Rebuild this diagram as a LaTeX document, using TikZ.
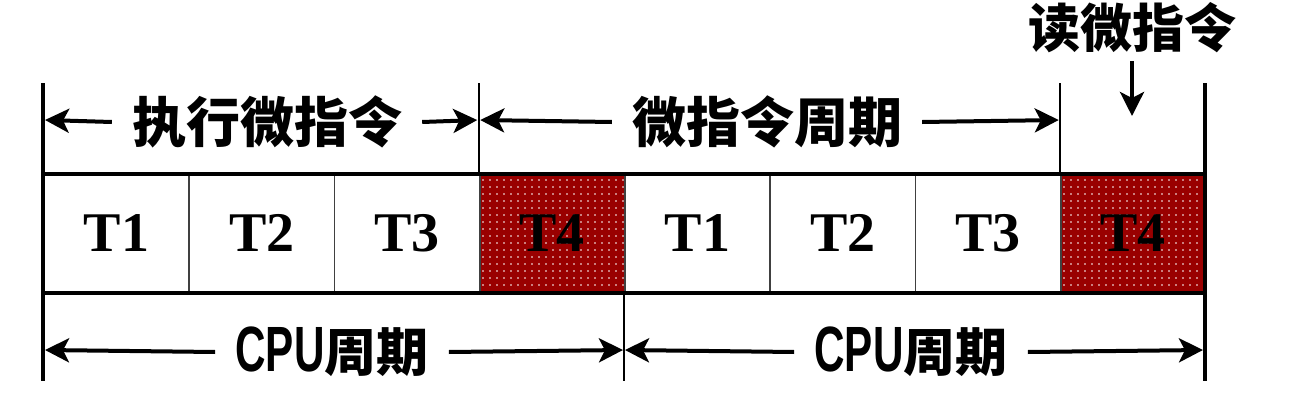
\documentclass[tikz,border=0pt]{standalone}
\usepackage{fontspec}
\setmainfont{Liberation Serif}
\newfontfamily\cjk{Noto Sans CJK SC}
\newfontfamily\narrow[FakeStretch=0.66]{Liberation Sans}
\usetikzlibrary{arrows.meta,patterns.meta}
\definecolor{cellred}{HTML}{990000}
\tikzset{
  tipR/.tip={Stealth[length=24pt,width=24pt,inset=6pt]},
}
\begin{document}
\begin{tikzpicture}[x=1pt,y=-1pt,
  cell/.style={draw=black!75, line width=1.8pt, minimum width=145.25pt, minimum height=117pt,
    inner sep=0pt, anchor=north west, font=\fontsize{56}{56}\selectfont\bfseries},
  hot/.style={fill=cellred},
  dots/.style={pattern={Dots[distance=7pt,radius=0.9pt]}, pattern color=white},
  bar/.style={line width=4.5pt},
  vline/.style={line width=2pt},
  hedge/.style={line width=3.4pt},
  dimarrow/.style={line width=4pt, arrows={-tipR}},
  lab/.style={inner xsep=20pt, inner ysep=0pt, font=\cjk\bfseries\fontsize{54}{54}\selectfont},
  cpu/.style={inner xsep=20pt, inner ysep=0pt}
]
\useasboundingbox (0,0) rectangle (1300,404);

% cells
\node[cell]      (c1) at (43,174)      {T1};
\node[cell]      (c2) at (188.25,174)  {T2};
\node[cell]      (c3) at (333.5,174)   {T3};
\node[cell,hot]  (c4) at (478.75,174)  {};
\node[cell]      (c5) at (624,174)     {T1};
\node[cell]      (c6) at (769.25,174)  {T2};
\node[cell]      (c7) at (914.5,174)   {T3};
\node[cell,hot]  (c8) at (1059.75,174) {};
\fill[dots] (c4.north west) rectangle (c4.south east);
\fill[dots] (c8.north west) rectangle (c8.south east);
\node[font=\fontsize{56}{56}\selectfont\bfseries] at (c4.center) {T4};
\node[font=\fontsize{56}{56}\selectfont\bfseries] at (c8.center) {T4};
\draw[hedge] (c1.north west) -- (c8.north east);
\draw[hedge] (c1.south west) -- (c8.south east);

% boundary lines
\coordinate (Lt) at (43,83);   \coordinate (Lb) at (43,381);
\coordinate (Rt) at (1205,83); \coordinate (Rb) at (1205,381);
\coordinate (Mt) at (478.75,83);
\coordinate (Nt) at (1059.75,83);
\coordinate (Pb) at (624,381);
\draw[bar] (Lt) -- (Lb);
\draw[bar] (Rt) -- (Rb);
\draw[vline] (Mt) -- (c4.north west);
\draw[vline] (Nt) -- (c8.north west);
\draw[vline] (c5.south west) -- (Pb);

% top labels
\coordinate (a1) at (45,120);
\coordinate (a2) at (478.75,120);
\coordinate (a3) at (1059.75,120);
\node[lab] (e1) at (267,122) {执行微指令};
\node[lab] (e2) at (767,122) {微指令周期};
\draw[dimarrow] (e1.west) -- (a1);
\draw[dimarrow,shorten >=1.5pt] (e1.east) -- (a2);
\draw[dimarrow,shorten >=1.5pt] (e2.west) -- (a2);
\draw[dimarrow,shorten >=1pt] (e2.east) -- (a3);

% read micro-instruction
\node[inner sep=0pt, font=\cjk\bfseries\fontsize{52}{52}\selectfont] (r) at (1132,28) {读微指令};
\coordinate (d2) at (1132,116);
\draw[dimarrow, shorten <=8pt] (r.south) -- (d2);

% bottom labels
\coordinate (b1) at (45,350);
\coordinate (b2) at (624,350);
\coordinate (b3) at (1203,350);
\node[cpu] (p1) at (332,352) {{\narrow\bfseries\fontsize{64}{64}\selectfont CPU}{\cjk\bfseries\fontsize{52}{52}\selectfont 周期}};
\node[cpu] (p2) at (911,352) {{\narrow\bfseries\fontsize{64}{64}\selectfont CPU}{\cjk\bfseries\fontsize{52}{52}\selectfont 周期}};
\draw[dimarrow] (p1.west) -- (b1);
\draw[dimarrow,shorten >=1pt] (p1.east) -- (b2);
\draw[dimarrow,shorten >=1pt] (p2.west) -- (b2);
\draw[dimarrow] (p2.east) -- (b3);
\end{tikzpicture}
\end{document}
